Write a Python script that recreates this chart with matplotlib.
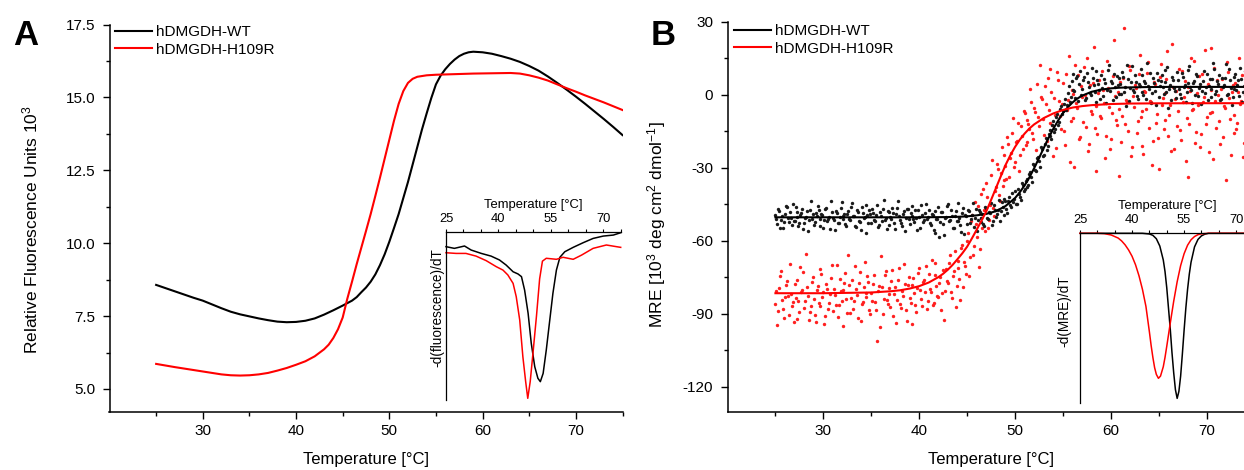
import numpy as np
import matplotlib
matplotlib.use("Agg")
import matplotlib.pyplot as plt
from matplotlib.ticker import MultipleLocator, FixedLocator
from matplotlib.lines import Line2D

plt.rcParams['font.family'] = ['Liberation Sans', 'DejaVu Sans']
plt.rcParams['mathtext.fontset'] = 'custom'
plt.rcParams['mathtext.rm'] = 'Liberation Sans'
plt.rcParams['mathtext.it'] = 'Liberation Sans:italic'
plt.rcParams['axes.unicode_minus'] = False

# ---------------- Panel A: fluorescence melting curves ----------------
A_T_wt = [25, 27, 29, 30, 31, 32, 33, 34, 35, 36, 37, 38, 39, 40, 41, 42, 43, 44, 45, 46,
          46.5, 47, 47.5, 48, 48.5, 49, 49.5, 50, 50.5, 51, 51.5, 52, 52.5, 53, 53.5, 54,
          54.5, 55, 55.5, 56, 56.5, 57, 57.5, 58, 58.5, 59, 60, 61, 62, 63, 64, 65, 66,
          67, 68, 69, 70, 71, 72, 73, 74, 75]
A_wt = [8.57, 8.35, 8.13, 8.03, 7.90, 7.77, 7.65, 7.56, 7.49, 7.42, 7.36, 7.31, 7.29, 7.30,
        7.34, 7.42, 7.55, 7.70, 7.86, 8.03, 8.15, 8.32, 8.48, 8.68, 8.93, 9.25, 9.62, 10.05,
        10.52, 11.0, 11.55, 12.1, 12.7, 13.3, 13.9, 14.45, 14.98, 15.45, 15.75, 15.97,
        16.15, 16.3, 16.42, 16.5, 16.55, 16.57, 16.55, 16.5, 16.42, 16.33, 16.22, 16.08,
        15.92, 15.72, 15.5, 15.27, 15.03, 14.78, 14.52, 14.26, 13.99, 13.71]
A_T_mut = [25, 27, 29, 30, 31, 32, 33, 34, 35, 36, 37, 38, 39, 40, 41, 42, 43, 43.5, 44,
           44.5, 45, 45.5, 46, 46.5, 47, 47.5, 48, 48.5, 49, 49.5, 50, 50.5, 51, 51.5, 52,
           52.5, 53, 54, 55, 57, 59, 61, 63, 64, 65, 66, 67, 68, 69, 70, 71, 72, 73, 74, 75]
A_mut = [5.86, 5.75, 5.65, 5.60, 5.55, 5.50, 5.47, 5.46, 5.47, 5.50, 5.55, 5.63, 5.72, 5.83,
         5.95, 6.12, 6.36, 6.52, 6.75, 7.05, 7.45, 8.1, 8.68, 9.28, 9.85, 10.42, 11.0,
         11.62, 12.25, 12.9, 13.55, 14.2, 14.78, 15.22, 15.5, 15.64, 15.71, 15.76, 15.78,
         15.8, 15.82, 15.83, 15.84, 15.82, 15.76, 15.68, 15.58, 15.45, 15.32, 15.2, 15.07,
         14.95, 14.83, 14.7, 14.57]

# inset A: -d(fluorescence)/dT (arbitrary units)
insA_T_wt = [25, 27.4, 30.3, 32.2, 35.1, 37.9, 40.3, 42.2, 44.2, 45.6, 46.6, 47.5, 48.5, 49.4,
             50.4, 51.3, 52.0, 52.8, 53.7, 54.7, 55.6, 56.6, 57.6, 59.0, 61.4, 64.3, 67.1,
             70.0, 72.9, 75]
insA_wt = [-8.9, -9.9, -8.5, -10.9, -12.9, -14.5, -16.8, -19.8, -23.8, -25.1, -26.7, -34.7,
           -48.5, -66.3, -80.2, -87.1, -89.1, -84.2, -70.3, -52.5, -36.6, -22.8, -15.2,
           -11.9, -9.3, -6.5, -4.0, -2.6, -2.0, -0.6]
insA_T_mut = [25, 27.9, 30.7, 33.6, 36.5, 39.4, 41.3, 42.7, 44.2, 45.1, 46.1, 47.0, 47.8,
              48.4, 49.1, 49.9, 50.9, 51.8, 52.6, 53.7, 56.6, 58.5, 61.4, 63.8, 67.1, 70.9,
              73.8, 75]
insA_mut = [-12.5, -12.9, -12.9, -14.5, -17.2, -20.8, -22.8, -25.7, -30.7, -38.6, -52.5,
            -74.3, -89.1, -99.0, -89.1, -72.0, -50.0, -28.0, -17.5, -15.8, -16.4, -15.2,
            -16.4, -13.9, -9.9, -7.9, -8.9, -9.3]

# ---------------- Panel B: CD melting (MRE) ----------------
# two interleaved sets of measured points: at 25.0, 25.2, ... and at 25.1, 25.3, ...
B_T_start, B_T_stop, B_T_step = 25.0, 75.0, 0.2
B_T_offset = 0.1
B_wt_pts = [
    -49.5, -53.2, -47.8, -51.6, -55.0, -48.9, -46.3, -52.4, -50.8, -44.9,
    -51.9, -48.2, -54.1, -49.6, -46.9, -52.8, -50.1, -56.2, -47.5, -50.9,
    -53.6, -48.8, -45.7, -51.3, -49.2, -54.7, -47.1, -52.0, -50.3, -43.8,
    -50.6, -55.8, -48.5, -52.7, -46.4, -51.1, -49.0, -53.9, -47.7, -51.5,
    -44.6, -50.0, -54.4, -48.1, -52.3, -46.0, -50.7, -56.7, -49.4, -47.3,
    -52.6, -48.7, -51.8, -45.2, -53.4, -49.9, -47.0, -51.4, -55.3, -48.4,
    -50.2, -46.6, -52.9, -49.1, -43.9, -51.7, -54.0, -48.0, -50.5, -46.8,
    -53.0, -49.7, -51.2, -47.6, -55.6, -50.4, -45.5, -52.2, -48.6, -51.0,
    -47.4, -53.7, -49.3, -56.9, -50.9, -46.2, -52.5, -48.3, -57.8, -50.1,
    -45.0, -51.6, -49.8, -54.6, -47.9, -52.1, -50.6, -56.3, -46.7, -49.5,
    -53.1, -48.0, -51.3, -44.4, -50.7, -55.9, -47.2, -52.4, -49.0, -53.8,
    -46.5, -51.0, -48.8, -53.5, -45.3, -50.2, -47.6, -52.0, -44.1, -49.3,
    -43.8, -48.5, -41.9, -46.2, -44.0, -39.5, -45.1, -40.8, -43.4, -37.2,
    -38.9, -34.6, -37.0, -31.8, -35.9, -28.7, -31.4, -25.6, -29.9, -22.5,
    -24.8, -17.9, -21.2, -14.6, -18.3, -10.7, -13.9, -7.9, -11.2, -4.6,
    -6.8, -1.9, -4.2, 3.5, -0.8, 8.4, 1.6, 6.9, -2.5, 9.8,
    2.4, 7.1, -1.2, 5.3, 0.6, 10.9, 3.8, -3.1, 6.2, 1.9,
    8.1, -0.4, 4.7, 2.0, 12.3, 5.6, -2.2, 3.1, 7.6, 0.2,
    4.4, 9.3, 1.3, -4.6, 6.5, 2.8, 11.6, 0.9, 5.1, -1.7,
    3.6, 7.9, 0.0, 4.9, 13.1, 2.2, -3.6, 6.8, 1.5, 8.8,
    -0.9, 5.7, 3.0, 10.2, 1.1, -5.4, 4.1, 7.3, 2.6, -1.5,
    6.0, 0.4, 9.0, 3.3, -2.8, 5.0, 11.8, 1.8, 4.6, -0.2,
    7.7, 2.9, -3.9, 5.5, 0.8, 8.6, 3.4, -1.0, 6.6, 10.5,
    1.4, 4.3, -2.0, 7.0, 3.9, 12.6, 0.3, 5.9, -4.1, 2.5,
    8.3, 4.0, -0.6, 6.4, 1.0, 9.7, 3.7, -2.4, 5.2, 2.1]
B_wt_pts2 = [
    -51.2, -47.0, -54.6, -49.9, -52.5, -45.8, -50.6, -48.4, -53.7, -51.8,
    -46.1, -50.3, -52.9, -48.6, -55.4, -50.8, -47.7, -51.5, -43.6, -49.2,
    -52.2, -50.0, -47.3, -54.0, -49.5, -51.7, -46.6, -50.9, -55.1, -48.3,
    -51.4, -47.9, -52.8, -50.2, -44.3, -49.8, -53.3, -48.9, -51.0, -46.0,
    -49.7, -53.8, -47.4, -51.9, -55.7, -48.6, -50.4, -45.4, -52.7, -49.1,
    -47.1, -51.6, -49.4, -54.3, -48.2, -52.0, -43.2, -50.7, -47.8, -53.5,
    -51.3, -48.5, -55.2, -46.4, -50.0, -52.6, -49.2, -56.0, -47.0, -51.1,
    -48.8, -45.9, -52.4, -50.5, -47.5, -54.8, -49.6, -51.6, -44.8, -50.1,
    -52.9, -49.0, -55.5, -47.8, -51.2, -58.6, -48.1, -53.2, -50.6, -45.6,
    -52.0, -47.2, -55.0, -49.7, -51.8, -44.5, -53.6, -48.7, -57.1, -50.0,
    -47.6, -52.8, -49.3, -54.2, -46.9, -51.4, -48.2, -50.8, -53.0, -46.0,
    -50.6, -48.1, -44.6, -51.8, -47.3, -49.0, -43.2, -48.0, -46.1, -42.8,
    -47.0, -43.9, -45.2, -40.6, -42.7, -44.9, -38.8, -41.9, -36.5, -39.6,
    -35.5, -37.8, -32.6, -33.9, -28.3, -30.9, -26.0, -27.4, -21.6, -25.3,
    -20.2, -22.8, -16.1, -17.0, -12.5, -15.4, -9.2, -12.3, -6.0, -8.1,
    -3.9, -6.2, 0.7, -2.9, 5.6, 2.1, -1.3, 7.8, 4.3, 0.0,
    5.9, -2.0, 8.9, 3.0, -0.3, 6.7, 1.1, 9.6, 4.2, -1.9,
    2.7, 6.3, -3.4, 10.1, 1.7, 5.0, 8.5, -0.8, 3.9, 6.9,
    0.1, 7.4, 3.3, 12.0, -2.6, 5.3, 1.9, 8.0, -0.5, 4.5,
    10.7, 1.2, 5.8, -1.9, 3.5, 9.1, 0.6, 4.8, -4.4, 6.2,
    3.7, 8.2, 0.2, 5.4, 11.3, 2.3, -2.3, 6.0, 1.7, 9.4,
    2.5, -1.4, 7.1, 4.0, 0.9, 10.0, 3.1, -3.3, 5.7, 8.7,
    -0.7, 4.5, 1.4, 9.9, 3.0, -2.1, 6.3, 2.2, 12.9, 0.4,
    5.5, 8.0, -1.7, 3.2, 6.8, 0.0, 10.4, 2.6, -0.9, 7.4,
    1.8, 5.9, 11.0, -3.0, 3.6, 7.0, 0.8, 4.4, 9.2, -1.2]
B_mut_pts = [
    -86.2, -94.8, -79.4, -72.3, -88.0, -83.1, -76.6, -90.5, -81.9, -85.4,
    -78.0, -92.1, -84.6, -70.8, -80.3, -87.7, -65.5, -82.8, -89.4, -76.9,
    -84.1, -93.6, -78.8, -86.9, -73.5, -81.2, -91.0, -79.9, -85.7, -75.2,
    -88.8, -82.4, -70.1, -86.3, -80.6, -94.9, -77.4, -83.9, -65.8, -89.9,
    -76.3, -84.8, -80.0, -91.7, -72.9, -86.0, -79.1, -83.3, -74.6, -88.4,
    -81.5, -77.7, -85.1, -101.4, -78.5, -66.3, -90.2, -74.0, -84.4, -79.6,
    -87.1, -72.0, -82.0, -93.8, -76.1, -85.9, -80.8, -69.5, -88.6, -78.2,
    -83.6, -94.3, -75.5, -86.6, -79.3, -71.2, -84.0, -77.0, -81.0, -88.1,
    -73.8, -80.9, -86.4, -69.0, -78.7, -83.0, -75.1, -81.4, -92.5, -71.7,
    -77.3, -66.0, -83.7, -72.6, -87.4, -68.4, -75.8, -63.1, -79.0, -70.3,
    -60.2, -74.5, -51.8, -65.9, -44.0, -58.3, -71.0, -40.7, -54.6, -47.2,
    -36.2, -55.0, -45.3, -26.8, -49.9, -38.1, -30.4, -43.6, -21.7, -35.0,
    -29.4, -17.2, -33.8, -24.0, -9.6, -27.5, -18.9, -31.2, -13.0, -22.4,
    -7.4, -19.6, -12.1, 2.3, -15.8, -5.5, -22.9, -9.1, 12.2, -1.8,
    -16.7, -4.0, 6.9, -11.5, 1.0, -25.3, -8.2, 9.4, -2.7, -14.0,
    4.8, -20.6, -6.1, 15.8, -10.9, 0.1, -29.8, -3.3, 8.0, -17.5,
    -1.0, 11.4, -13.2, -23.1, 3.9, -7.8, 19.6, -4.5, -16.3, 6.1,
    -9.7, 1.8, -26.0, 13.7, -5.1, -18.4, 7.5, -0.6, -12.6, -33.5,
    5.4, -8.6, 27.3, -2.1, -15.1, 10.3, -21.3, -4.9, 2.7, -11.0,
    16.5, -6.7, -24.4, 0.9, 8.9, -13.8, -2.9, -19.0, 4.2, -8.0,
    -30.6, 12.8, -1.4, -10.2, 6.6, -17.0, -4.2, 21.0, -22.2, 1.5,
    -6.9, -14.5, 9.9, -1.1, -27.2, 3.2, -11.9, 14.9, -5.8, -19.8,
    0.5, 7.8, -16.0, -3.0, 18.2, -9.3, -23.7, 2.0, -7.1, 11.1,
    -13.5, -0.1, -20.1, 6.3, -4.7, -35.0, 9.2, -9.9, 1.2, -15.9,
    4.6, -11.8, 15.2, -2.4, -25.8, 0.0, 7.2, -6.5, -18.7, 10.6]
B_mut_pts2 = [
    -80.5, -88.9, -74.4, -84.3, -91.6, -78.1, -82.7, -69.6, -86.8, -93.5,
    -83.4, -76.0, -89.2, -81.3, -72.8, -85.0, -79.2, -92.8, -87.0, -74.9,
    -90.6, -80.1, -85.6, -71.6, -83.0, -94.2, -77.8, -88.2, -82.1, -69.9,
    -79.7, -86.5, -91.3, -75.9, -84.9, -80.4, -73.1, -89.6, -78.4, -83.5,
    -87.9, -70.5, -82.3, -77.2, -92.9, -85.3, -68.7, -81.7, -76.8, -90.0,
    -84.7, -74.3, -88.5, -80.7, -95.6, -78.9, -83.8, -72.4, -86.1, -81.8,
    -76.5, -90.8, -79.0, -84.2, -71.4, -87.5, -82.6, -77.9, -93.1, -74.8,
    -85.5, -78.3, -81.6, -89.3, -73.3, -80.2, -86.7, -76.2, -70.6, -84.6,
    -79.8, -67.9, -85.8, -74.2, -82.9, -77.6, -88.7, -72.1, -80.5, -76.4,
    -69.2, -81.1, -74.7, -64.4, -78.6, -71.3, -84.5, -61.8, -68.9, -73.9,
    -57.0, -66.8, -49.4, -62.3, -53.1, -45.9, -63.6, -50.5, -38.9, -56.2,
    -42.1, -51.4, -33.2, -46.7, -39.7, -28.5, -41.2, -32.3, -37.4, -24.6,
    -34.6, -20.3, -26.1, -15.6, -29.7, -19.3, -11.8, -24.8, -16.8, -6.9,
    -20.7, -10.4, -14.3, -3.1, -18.2, -7.0, 4.5, -12.9, -0.9, -9.8,
    3.6, -19.0, -6.4, 10.7, -12.4, -1.5, -21.9, 5.9, -8.7, -3.8,
    -14.8, 8.6, -2.2, -27.5, 1.9, -9.5, 12.4, -5.3, -18.1, 3.4,
    -11.3, -0.2, 15.1, -20.4, -6.6, 4.9, -13.7, -31.2, 0.7, -8.9,
    9.7, -3.6, -16.9, 2.8, -22.5, -7.4, 22.6, -10.6, 1.3, -5.7,
    -19.4, 6.8, -12.0, -3.2, 11.9, -25.1, -0.4, 4.0, -15.6, 8.3,
    -9.0, -20.9, 1.6, -6.0, 13.3, -2.5, -29.0, 5.2, -11.7, -17.7,
    7.1, -4.4, -14.2, 0.8, 17.9, -8.4, -23.0, 3.0, -1.9, -12.8,
    10.4, -18.6, -2.8, 5.7, -9.6, -33.9, 1.4, -6.3, 14.0, -15.3,
    -4.1, -21.4, 8.7, -0.9, -12.2, 4.4, -7.7, 19.3, -26.4, -2.6,
    6.0, -10.8, 2.5, -17.3, -5.6, 13.6, -1.3, -24.9, 3.8, -8.3,
    -14.1, 1.1, -3.9, 8.1, -20.0, -7.2, 24.5, -0.7, -12.7, 5.0]

# fitted curves
B_fitT_wt = [25, 30, 35, 40, 43, 44, 45, 46, 47, 48, 49, 50, 50.5, 51, 51.5, 52, 52.5, 53,
             53.5, 54, 54.5, 55, 55.5, 56, 56.5, 57, 58, 59, 60, 61, 62, 64, 66, 70, 75]
B_fit_wt = [-50.4, -50.4, -50.4, -50.4, -50.3, -50.2, -50.0, -49.6, -49.0, -47.9, -45.8,
            -42.5, -40.1, -37.3, -34.0, -30.2, -26.1, -21.9, -17.8, -14.0, -10.6, -7.6, -5.2,
            -3.2, -1.6, -0.4, 1.2, 2.1, 2.6, 2.9, 3.0, 3.15, 3.2, 3.2, 3.2]
B_fitT_mut = [25, 30, 35, 37, 38, 39, 40, 41, 42, 42.5, 43, 43.5, 44, 44.5, 45, 45.5, 46,
              46.5, 47, 47.5, 48, 48.5, 49, 49.5, 50, 50.5, 51, 51.5, 52, 53, 54, 55, 56,
              57, 58, 60, 62, 65, 70, 75]
B_fit_mut = [-81.6, -81.6, -81.3, -80.8, -80.4, -79.7, -78.7, -77.2, -75.0, -73.6, -71.9,
             -69.9, -67.6, -65.2, -62.5, -59.1, -55.5, -51.8, -48.0, -43.3, -38.5, -33.7,
             -29.0, -25.0, -21.5, -18.5, -16.0, -13.9, -12.2, -9.6, -7.7, -6.3, -5.3, -4.7,
             -4.3, -3.84, -3.64, -3.55, -3.5, -3.5]

# inset B: -d(MRE)/dT (arbitrary units)
insB_T_wt = [25, 43, 45, 46, 47, 48, 49, 49.5, 50, 50.5, 51, 51.5, 52, 52.5, 53, 53.5, 54,
             54.5, 55, 55.5, 56, 56.5, 57, 58, 59, 60, 61, 62, 75]
insB_wt = [0, 0, -0.4, -1.2, -3.2, -7.5, -15.7, -22.5, -32, -44, -56, -70, -82, -92, -97.1,
           -93, -84, -71, -57, -44, -33, -24, -17, -8, -3.6, -1.5, -0.5, 0, 0]
insB_T_mut = [25, 30, 32, 34, 36, 37, 38, 39, 40, 41, 42, 43, 44, 45, 45.5, 46, 46.5, 47,
              47.6, 48.2, 49, 49.5, 50, 51, 52, 53, 54, 55, 56, 57, 58, 59, 60, 62, 75]
insB_mut = [0, 0, -0.2, -1.0, -2.8, -4.5, -6.8, -9.8, -13.5, -18.5, -25, -33, -43, -58, -66,
            -73, -79, -83, -85.3, -84, -78.5, -73, -66.5, -53, -40, -28.5, -19, -12, -7,
            -3.8, -1.9, -0.8, -0.3, 0, 0]

labels = ['hDMGDH-WT', 'hDMGDH-H109R']
colors = ['#000000', '#ff0000']
x_major = [30, 40, 50, 60, 70]
inset_major = [25, 40, 55, 70]

# ---------------- figure ----------------
W, H = 1244, 470
fig = plt.figure(figsize=(W / 100, H / 100), dpi=100)


def rect(l, t, r, b):
    return [l / W, 1 - b / H, (r - l) / W, (b - t) / H]


axA = fig.add_axes(rect(109.5, 24.6, 622.5, 411.7))
axB = fig.add_axes(rect(727.5, 21.7, 1254.6, 411.7))
insA = fig.add_axes(rect(446, 231.7, 620.7, 400))
insB = fig.add_axes(rect(1080, 233.3, 1253.5, 403.3))


def style_main(ax):
    for s in ['top', 'right']:
        ax.spines[s].set_visible(False)
    for s in ['left', 'bottom']:
        ax.spines[s].set_linewidth(1.1)
    ax.set_xlim(20, 75)
    ax.xaxis.set_major_locator(FixedLocator(x_major))
    ax.xaxis.set_minor_locator(FixedLocator([25, 35, 45, 55, 65, 75]))
    ax.tick_params(which='major', direction='out', length=4.7, width=1.0, labelsize=11)
    ax.tick_params(which='minor', direction='out', length=2.9, width=1.0)
    ax.tick_params(axis='x', pad=4.5)
    ax.tick_params(axis='y', pad=5.5)
    ax.set_xlabel('Temperature [°C]', fontsize=12, labelpad=9.5)
    ax.patch.set_alpha(0)


def style_inset(ax, ylabel):
    for s in ['right', 'bottom']:
        ax.spines[s].set_visible(False)
    for s in ['left', 'top']:
        ax.spines[s].set_linewidth(0.9)
    ax.xaxis.tick_top()
    ax.xaxis.set_label_position('top')
    ax.set_xlim(25, 75)
    ax.set_ylim(-100, 0)
    ax.set_yticks([])
    ax.xaxis.set_major_locator(FixedLocator(inset_major))
    ax.xaxis.set_minor_locator(MultipleLocator(5))
    ax.tick_params(axis='x', which='both', direction='out', length=2.5, width=0.8,
                   labelsize=9.3, pad=2.5)
    ax.set_xlabel('Temperature [°C]', fontsize=9.4, labelpad=3.5)
    ax.set_ylabel(ylabel, fontsize=9.8)
    ax.patch.set_alpha(0)


# Panel A
style_main(axA)
axA.set_ylim(4.22, 17.5)
axA.yaxis.set_major_locator(FixedLocator([5.0, 7.5, 10.0, 12.5, 15.0, 17.5]))
axA.yaxis.set_minor_locator(FixedLocator([6.25, 8.75, 11.25, 13.75, 16.25]))
axA.yaxis.set_major_formatter(plt.FormatStrFormatter('%.1f'))
axA.plot(A_T_wt, A_wt, color=colors[0], lw=1.5, zorder=3)
axA.plot(A_T_mut, A_mut, color=colors[1], lw=1.5, zorder=3)
axA.set_ylabel('Relative Fluorescence Units 10$^3$', fontsize=12.5)
axA.yaxis.set_label_coords(-0.134, 0.47)

style_inset(insA, '-d(fluorescence)/dT')
insA.plot(insA_T_wt, insA_wt, color=colors[0], lw=1.1, clip_on=False)
insA.plot(insA_T_mut, insA_mut, color=colors[1], lw=1.1, clip_on=False)
insA.yaxis.set_label_coords(-0.008, 0.55)

# Panel B
style_main(axB)
axB.set_ylim(-130.3, 30)
axB.yaxis.set_major_locator(FixedLocator([-120, -90, -60, -30, 0, 30]))
axB.yaxis.set_minor_locator(FixedLocator([-105, -75, -45, -15, 15]))
B_T = np.round(np.arange(B_T_start, B_T_stop - 1e-9, B_T_step), 1)
B_T2 = np.round(B_T + B_T_offset, 1)
axB.scatter(B_T, B_mut_pts, s=6, color='#ff2020', linewidths=0, zorder=2)
axB.scatter(B_T2, B_mut_pts2, s=6, color='#ff2020', linewidths=0, zorder=2)
axB.scatter(B_T, B_wt_pts, s=6, color='#1a1a1a', linewidths=0, zorder=2.1)
axB.scatter(B_T2, B_wt_pts2, s=6, color='#1a1a1a', linewidths=0, zorder=2.1)
axB.plot(B_fitT_wt, B_fit_wt, color=colors[0], lw=1.5, zorder=3)
axB.plot(B_fitT_mut, B_fit_mut, color=colors[1], lw=1.5, zorder=3)
axB.set_ylabel('MRE [10$^3$ deg cm$^2$ dmol$^{-1}$]', fontsize=12.5)
axB.yaxis.set_label_coords(-0.112, 0.48)

style_inset(insB, '-d(MRE)/dT')
insB.plot(insB_T_wt, insB_wt, color=colors[0], lw=1.1, clip_on=False)
insB.plot(insB_T_mut, insB_mut, color=colors[1], lw=1.1, clip_on=False)
insB.yaxis.set_label_coords(-0.05, 0.544)

# legends
for ax, anchor in [(axA, (0.0107, 0.998)), (axB, (0.0123, 0.9935))]:
    handles = [Line2D([], [], color=c, lw=1.5) for c in colors]
    ax.legend(handles, labels, loc='upper left', bbox_to_anchor=anchor, frameon=False,
              fontsize=11, handlelength=2.4, handletextpad=0.3, labelspacing=0.22,
              borderpad=0, borderaxespad=0)

# panel letters
fig.text(13 / W, 1 - 45 / H, 'A', fontsize=25, fontweight='bold', va='baseline', ha='left')
fig.text(651 / W, 1 - 45 / H, 'B', fontsize=25, fontweight='bold', va='baseline', ha='left')

fig.savefig('out.png', dpi=100)
